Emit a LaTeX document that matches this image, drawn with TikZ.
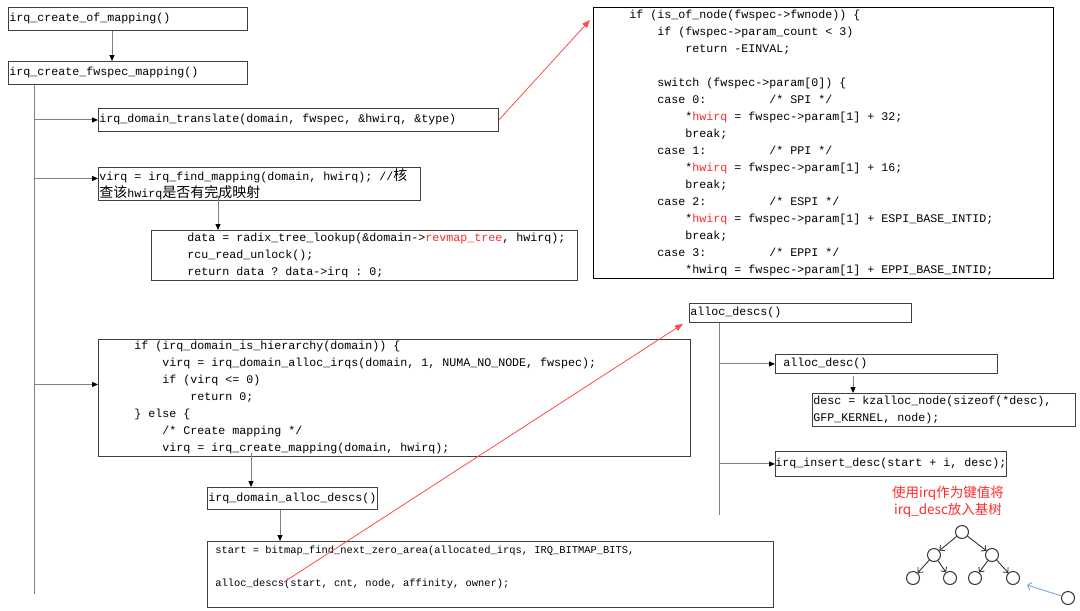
\documentclass[tikz,border=0pt]{standalone}
\usepackage{fontspec}
\setmonofont{Liberation Mono}[WordSpace={1,0,0}]
\newfontfamily\cjk{Noto Sans CJK SC}
\usepackage{tikz}
\usetikzlibrary{arrows.meta}
\definecolor{hl}{HTML}{FF2A2A}
\definecolor{sky}{HTML}{7AAFDF}
\newlength\cw
\setlength\cw{7pt}
\newcommand\ind[1]{\hspace*{#1\cw}}
\newcommand\zh[1]{{\cjk\fontsize{14}{17}\selectfont #1}}
\newcommand\rd[1]{{\color{hl}#1}}
\newcommand\code[2]{\ttfamily\fontsize{#1}{#2}\selectfont}
\tikzset{
    base/.style={draw=black!75, line width=0.9pt, rectangle, anchor=north west, inner xsep=1pt, inner ysep=0pt, align=left, font=\code{11.66}{17},
        execute at begin node={\spaceskip=0.6em\relax\xspaceskip=0.6em\relax}},
    wh/.style 2 args={text width=#1, minimum height=#2},
    arrow/.style={draw=black!50, line width=1pt, -{Triangle[length=6pt,width=5pt,color=black]}},
    trunk/.style={draw=black!50, line width=1pt},
    redarrow/.style={draw=hl!85, line width=0.8pt, -{Triangle[length=8pt,width=6pt]}},
    leaf/.style={draw=black!80, line width=1pt, circle, minimum size=13pt, inner sep=0pt},
    edge/.style={draw=black!80, line width=0.9pt, -{Straight Barb[length=3.5pt,width=7pt]}},
    bluearrow/.style={draw=sky, line width=1pt, -{Straight Barb[length=3.5pt,width=8pt]}}
}

\begin{document}
\begin{tikzpicture}[x=1pt, y=-1pt]
\useasboundingbox (0,0) rectangle (1080,611);
\node[base, wh={237pt}{23pt}] (ofm) at (8,7) {irq\_create\_of\_mapping()};
\node[base, wh={237pt}{23pt}] (fws) at (8,61) {irq\_create\_fwspec\_mapping()};
\node[base, wh={398pt}{23pt}] (trl) at (98,108) {irq\_domain\_translate(domain, fwspec, \&hwirq, \&type)};
\node[base, wh={320pt}{33pt}] (fnd) at (98,167) {virq = irq\_find\_mapping(domain, hwirq); //\zh{核}\\\zh{查该}hwirq\zh{是否有完成映射}};
\node[base, wh={424pt}{50pt}] (lkp) at (151,230) {\ind{5}data = radix\_tree\_lookup(\&domain->\rd{revmap\_tree}, hwirq);\\\ind{5}rcu\_read\_unlock();\\\ind{5}return data ? data->irq : 0;};
\node[base, wh={590pt}{117pt}] (hier) at (98,339) {\ind{5}if (irq\_domain\_is\_hierarchy(domain)) \{\\\ind{9}virq = irq\_domain\_alloc\_irqs(domain, 1, NUMA\_NO\_NODE, fwspec);\\\ind{9}if (virq <= 0)\\\ind{13}return 0;\\\ind{5}\} else \{\\\ind{9}/* Create mapping */\\\ind{9}virq = irq\_create\_mapping(domain, hwirq);};
\node[base, wh={168pt}{22pt}] (idad) at (207,487) {irq\_domain\_alloc\_descs()};
\node[base, wh={564pt}{66pt}, font=\code{10.42}{16.5}] (bmp) at (207,541) {\ind{1}start = bitmap\_find\_next\_zero\_area(allocated\_irqs, IRQ\_BITMAP\_BITS,\\\mbox{}\\\ind{1}alloc\_descs(start, cnt, node, affinity, owner);\\\mbox{}};
\node[base, draw=black, wh={458pt}{271pt}] (xlt) at (593,7) {\ind{5}if (is\_of\_node(fwspec->fwnode)) \{\\
\ind{9}if (fwspec->param\_count < 3)\\
\ind{13}return -EINVAL;\\
\mbox{}\\
\ind{9}switch (fwspec->param[0]) \{\\
\ind{9}case 0:\ind{9}/* SPI */\\
\ind{13}*\rd{hwirq} = fwspec->param[1] + 32;\\
\ind{13}break;\\
\ind{9}case 1:\ind{9}/* PPI */\\
\ind{13}*\rd{hwirq} = fwspec->param[1] + 16;\\
\ind{13}break;\\
\ind{9}case 2:\ind{9}/* ESPI */\\
\ind{13}*\rd{hwirq} = fwspec->param[1] + ESPI\_BASE\_INTID;\\
\ind{13}break;\\
\ind{9}case 3:\ind{9}/* EPPI */\\
\ind{13}*hwirq = fwspec->param[1] + EPPI\_BASE\_INTID;};
\node[base, wh={220pt}{19pt}] (ads) at (689,303) {alloc\_descs()};
\node[base, wh={220pt}{19pt}] (adc) at (775,354) {\ind{1}alloc\_desc()};
\node[base, wh={261pt}{33pt}] (kza) at (812,393) {desc = kzalloc\_node(sizeof(*desc),\\GFP\_KERNEL, node);};
\node[base, wh={231pt}{25pt}, inner xsep=0pt] (ins) at (775,451) {irq\_insert\_desc(start + i, desc);};
\node[text=hl, align=center, inner sep=0pt, font=\cjk\fontsize{13.5}{17}\selectfont] (note) at (948,501.5) {使用irq作为键值将\\irq\_desc放入基树};
\coordinate (tr) at (34,594);
\coordinate (atr) at (719,515);
\path ([yshift=5.5pt]fnd.west) coordinate (fndin);
\path ([yshift=13.5pt]hier.west) coordinate (hierin);
\draw[arrow] ([xshift=104pt]ofm.south west) -- ([xshift=104pt]fws.north west);
\draw[trunk] ([xshift=26pt]fws.south west) -- (tr);
\draw[arrow] (trl.west -| tr) -- (trl.west);
\draw[arrow] (fndin -| tr) -- (fndin);
\draw[arrow] (hierin -| tr) -- (hierin);
\draw[arrow] ([xshift=120pt,yshift=5pt]fnd.south west) -- ([xshift=67pt]lkp.north west);
\draw[arrow] ([xshift=153pt,yshift=4pt]hier.south west) -- ([xshift=44pt]idad.north west);
\draw[arrow] ([xshift=73pt]idad.south west) -- ([xshift=73pt]bmp.north west);
\draw[trunk] ([xshift=30pt]ads.south west) -- (atr);
\draw[arrow] (adc.west -| atr) -- (adc.west);
\draw[arrow] (ins.west -| atr) -- (ins.west);
\draw[arrow] ([xshift=78pt,yshift=-2pt]adc.south west) -- ([xshift=41pt]kza.north west);
\draw[redarrow] (trl.east) -- ([xshift=-3pt,yshift=-13pt]xlt.north west);
\draw[redarrow] ([xshift=77pt,yshift=-41pt]bmp.north west) -- ([xshift=-6pt,yshift=-1pt]ads.south west);
\node[leaf] (r) at (962,532) {};
\node[leaf] (r1) at (934,555) {};
\node[leaf] (r2) at (992,555) {};
\node[leaf] (r11) at (913,578) {};
\node[leaf] (r12) at (950,578) {};
\node[leaf] (r21) at (975,578) {};
\node[leaf] (r22) at (1013,578) {};
\node[leaf] (nw) at (1068,598) {};
\coordinate (slot) at (1027,585);
\draw[edge] (r) -- (r1);
\draw[edge] (r) -- (r2);
\draw[edge] (r1) -- (r11);
\draw[edge] (r1) -- (r12);
\draw[edge] (r2) -- (r21);
\draw[edge] (r2) -- (r22);
\draw[bluearrow] (nw) -- (slot);
\end{tikzpicture}
\end{document}
